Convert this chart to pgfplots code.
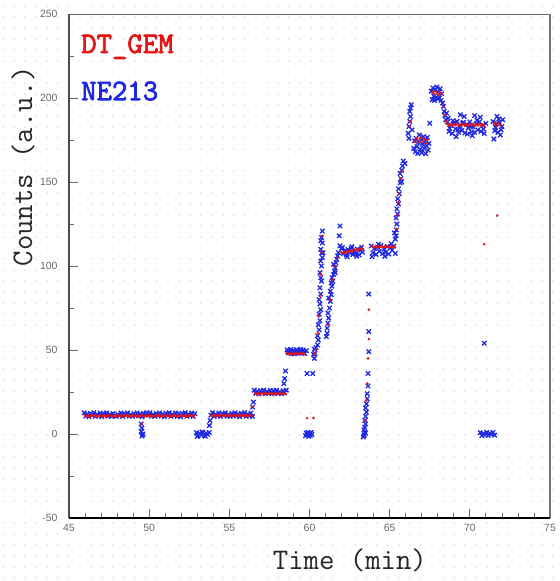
\documentclass[border=0pt]{standalone}
\usepackage{pgfplots}
\pgfplotsset{compat=1.18}
\usetikzlibrary{patterns}
\usepackage{fontspec}
\setsansfont{Liberation Sans}
\newfontfamily\bmono{Latin Modern Mono}[FakeBold=2.5]
\definecolor{redc}{RGB}{228,20,20}
\definecolor{bluec}{RGB}{30,40,225}
\definecolor{tickgray}{RGB}{105,105,105}
\pgfdeclarepatternformonly{bgdots}{\pgfqpoint{-1bp}{-1bp}}{\pgfqpoint{12bp}{12bp}}{\pgfqpoint{11bp}{11bp}}{\pgfpathcircle{\pgfqpoint{3bp}{3bp}}{0.8bp}\pgfusepath{fill}}
\begin{document}
\begin{tikzpicture}
\useasboundingbox (0,0) rectangle (560bp,581bp);
\fill[pattern=bgdots, pattern color=black!14] (0,0) rectangle (560bp,581bp);
\begin{axis}[
  at={(69bp,63bp)}, anchor=south west,
  scale only axis, width=481bp, height=504bp,
  xmin=45, xmax=75, ymin=-50, ymax=250,
  xtick={45,50,...,75}, ytick={-50,0,...,250},
  minor x tick num=4, minor y tick num=1,
  xtick pos=bottom, ytick pos=left,
  tick align=inside,
  major tick length=9bp, minor tick length=5bp,
  every tick/.style={tickgray, line width=0.8bp},
  axis line style={draw=none},
  clip=false,
  /pgf/number format/assume math mode=true,
  ticklabel style={font=\sffamily\fontsize{10.5}{12}\selectfont, text=tickgray},
  yticklabel style={xshift=-8bp},
  xticklabel style={yshift=-3bp},
  xlabel={Time (min)},
  xlabel style={at={(axis description cs:0.584,-0.0833)}, anchor=center, font=\ttfamily\fontsize{30}{32}\selectfont, text=black!85},
  ylabel={Counts (a.u.)},
  ylabel style={at={(axis description cs:-0.0956,0.698)}, anchor=center, font=\ttfamily\fontsize{30}{32}\selectfont, text=black!85},
]
\draw[black!70, line width=1.6bp] (rel axis cs:0,0) -- (rel axis cs:0,1);
\draw[black!60, line width=0.8bp] (rel axis cs:0,1) -- (rel axis cs:1,1);
\draw[black!55, line width=2bp] (rel axis cs:1,0) -- (rel axis cs:1,1);

% NE213 (blue crosses)
\addplot[only marks, mark=x, mark size=3.1bp, draw=bluec, line width=1.3bp] coordinates {
(45.95,12.6)(46.05,10.7)(46.15,11.9)(46.25,10.3)(46.35,12.3)(46.45,11.2)(46.55,12.7)(46.65,10.5)(46.75,11.7)(46.85,10.9)
(46.95,12.5)(47.05,10.4)(47.15,12.1)(47.25,11.4)(47.35,12.6)(47.45,10.6)(47.55,11.6)(47.65,10.5)(47.75,12.2)(47.85,11.0)
(47.95,10.5)(48.05,11.7)(48.15,10.9)(48.25,12.5)(48.35,10.4)(48.45,12.1)(48.55,11.4)(48.65,12.6)(48.75,10.6)(48.85,11.6)
(48.95,10.5)(49.05,12.2)(49.15,11.0)(49.25,12.6)(49.35,10.7)(49.45,11.9)(49.55,10.3)(49.65,12.3)(49.75,11.2)(49.85,12.7)
(49.95,11.4)(50.05,12.6)(50.15,10.6)(50.25,11.6)(50.35,10.5)(50.45,12.2)(50.55,11.0)(50.65,12.6)(50.75,10.7)(50.85,11.9)
(50.95,10.3)(51.05,12.3)(51.15,11.2)(51.25,12.7)(51.35,10.5)(51.45,11.7)(51.55,10.9)(51.65,12.5)(51.75,10.4)(51.85,12.1)
(51.95,10.3)(52.05,12.3)(52.15,11.2)(52.25,12.7)(52.35,10.5)(52.45,11.7)(52.55,10.9)(52.65,12.5)(52.75,10.4)(52.85,12.1)
(49.5,6.0)(49.55,3.5)(49.5,1.5)(49.6,0.0)(49.55,-1.2)(49.6,-0.5)
(52.95,0.8)(53.05,-1.0)(53.15,0.3)(53.25,-0.6)(53.35,1.0)(53.45,-0.9)(53.55,0.5)(53.65,-0.3)(53.75,0.9)
(53.0,-1.5)(53.3,1.2)(53.5,-1.3)(53.75,5.0)(53.8,8.0)
(53.85,11.2)(53.95,12.7)(54.05,10.5)(54.15,11.7)(54.25,10.9)(54.35,12.5)(54.45,10.4)(54.55,12.1)(54.65,11.4)(54.75,12.6)
(54.85,10.6)(54.95,11.6)(55.05,10.5)(55.15,12.2)(55.25,11.0)(55.35,12.6)(55.45,10.7)(55.55,11.9)(55.65,10.3)(55.75,12.3)
(55.85,11.2)(55.95,12.7)(56.05,10.5)(56.15,11.7)(56.25,10.9)(56.35,12.5)(56.45,10.4)
(56.45,16.0)(56.5,19.0)
(56.55,26.1)(56.65,24.2)(56.75,25.4)(56.85,23.8)(56.95,25.8)(57.05,24.7)(57.15,26.2)(57.25,24.0)(57.35,25.2)(57.45,24.4)
(57.55,26.0)(57.65,23.9)(57.75,25.6)(57.85,24.9)(57.95,26.1)(58.05,24.1)(58.15,25.1)(58.25,24.0)(58.35,25.7)(58.45,24.5)(58.55,26.1)
(58.45,33.0)(58.5,37.5)(58.4,30.0)
(58.6,50.1)(58.7,48.2)(58.8,49.4)(58.9,47.8)(59.0,49.8)(59.1,48.7)(59.2,50.2)(59.3,48.0)(59.4,49.2)(59.5,48.4)(59.6,50.0)(59.7,47.9)(59.8,49.6)
(58.65,48.9)(58.85,50.3)(59.05,47.6)(59.25,49.5)(59.45,50.4)(59.65,48.6)
(59.75,-1.0)(59.8,0.6)(59.85,-0.4)(59.9,1.0)(59.95,-1.4)(60.0,0.2)(60.05,-0.8)(60.1,0.9)(60.15,-0.2)
(59.85,36.0)(60.2,36.0)
(60.25,47.5)(60.3,50.5)(60.35,48.0)(60.4,51.5)(60.3,45.0)
(60.5,53)(60.55,56)(60.5,58.5)(60.6,62)(60.55,65)(60.65,67.5)(60.6,71.4)(60.7,74)(60.65,77.4)(60.6,80)
(60.7,83.3)(60.65,87)(60.75,91)(60.7,93)(60.65,96)(60.75,100)(60.7,103)(60.8,105)(60.75,107.7)(60.7,110)
(60.8,113.7)(60.75,117)(60.8,120.8)(60.7,115)(60.85,108)
(61.05,58)(61.1,60)(61.1,63)(61.15,66)(61.2,69)(61.15,72)(61.25,75)(61.3,79)(61.2,81)(61.35,83)
(61.3,85)(61.4,88)(61.45,91)(61.4,93)(61.5,95)(61.55,97)(61.6,99)(61.5,101)(61.65,102)(61.7,104)
(61.75,106)(61.6,96)(61.35,90)(61.8,108)(61.9,123.8)(61.85,118)(61.9,112)
(62.0,110.3)(62.1,107.2)(62.2,109.1)(62.3,106.5)(62.4,109.8)(62.5,108.0)(62.6,110.5)(62.7,106.8)(62.8,108.8)(62.9,107.5)
(63.0,110.1)(63.1,106.6)(63.2,109.4)(63.3,108.2)
(62.05,111)(62.35,105.5)(62.65,111.5)(62.95,105.8)(63.25,111.2)
(63.35,-1.8)(63.4,-0.5)(63.45,1.0)(63.4,2.5)(63.45,4.0)(63.5,6.0)(63.45,8.0)(63.5,10.5)(63.55,13.0)(63.5,15.5)
(63.55,18.0)(63.6,21.0)(63.6,24.0)(63.65,28.6)(63.65,36.0)(63.7,49.0)(63.7,61.0)(63.7,83.3)(63.4,-1.0)(63.5,0.5)
(63.85,111.9)(63.95,107.8)(64.05,110.4)(64.15,106.9)(64.25,111.2)(64.35,108.8)(64.45,112.2)(64.55,107.3)(64.65,110.0)(64.75,108.2)
(64.85,111.6)(64.95,107.1)(65.05,110.8)(65.15,109.3)(65.25,111.9)(65.35,107.5)
(63.9,105.5)(64.3,113)(64.7,105.8)(65.1,113.2)(65.3,119.6)(65.35,116)
(65.4,118)(65.42,121.5)(65.45,125)(65.4,128.6)(65.5,131)(65.45,134)(65.55,137)(65.5,140)(65.6,143)(65.55,146)
(65.65,149.5)(65.7,152)(65.65,155)(65.75,157)(65.8,159.5)(65.85,162.5)(65.95,161)(65.75,150)
(66.15,179)(66.2,183)(66.25,186)(66.3,189)(66.25,192)(66.35,196)(66.3,194)(66.4,181)(66.2,176)
(66.5,170)(66.55,174.5)(66.6,168)(66.65,176)(66.7,171)(66.75,167)(66.8,173.5)(66.85,178)(66.9,169.5)(66.95,175)
(67.0,167.5)(67.05,172.5)(67.1,177)(67.15,170)(67.2,174)(67.25,166.8)(67.3,171.5)(67.35,176.5)(67.4,169)(67.45,173)(67.5,185)
(67.6,204)(67.65,199)(67.7,206)(67.75,201)(67.8,198.5)(67.85,205)(67.9,200.5)(67.95,206.5)(68.0,199.5)(68.05,203.5)
(68.1,200)(68.15,205.5)(68.2,198.5)(68.25,202.5)(68.3,197)
(68.35,195)(68.4,192)(68.45,189.5)(68.5,187)(68.55,191)
(68.6,185.8)(68.7,180.1)(68.8,183.7)(68.9,178.9)(69.0,184.9)(69.1,181.6)(69.2,186.1)(69.3,179.5)(69.4,183.1)(69.5,180.7)
(69.6,185.5)(69.7,179.2)(69.8,184.3)(69.9,182.2)(70.0,185.8)(70.1,179.8)(70.2,182.8)(70.3,179.5)(70.4,184.6)(70.5,181.0)
(70.6,185.8)(70.7,180.1)(70.8,183.7)(70.9,178.9)(71.0,184.9)
(68.65,188)(69.15,177)(69.65,189)(70.15,177.5)(70.65,188.5)(69.4,190)(70.3,189.5)
(68.75,182)(68.95,186.5)(69.25,181)(69.55,185)(69.85,178.5)(70.05,183)(70.45,186.8)(70.85,181.5)
(70.65,0.8)(70.75,-1.0)(70.85,0.3)(70.95,-0.6)(71.05,1.0)(71.15,-0.9)(71.25,0.5)(71.35,-0.3)(71.45,0.9)(71.55,-0.7)
(70.9,54)
(71.45,186)(71.55,180.5)(71.65,184.5)(71.75,179.5)(71.85,185.5)(71.95,181)(72.05,187)
(71.5,175.6)(71.7,189)(71.9,178)(71.6,182.5)(71.8,187.5)(72.0,183)
};

% DT_GEM (red dots)
\addplot[only marks, mark=*, mark size=1.1bp, color=redc, mark options={draw=redc, fill=redc}] coordinates {
(46.0,11.2)(46.1,10.5)(46.2,10.9)(46.3,10.3)(46.4,11.1)(46.5,10.7)(46.6,11.3)(46.7,10.4)(46.8,11.0)(46.9,10.6)
(47.0,11.2)(47.1,10.5)(47.2,10.9)(47.3,10.3)(47.4,11.1)(47.5,10.7)(47.6,11.3)(47.7,10.4)(47.8,11.0)(47.9,10.6)
(48.0,11.2)(48.1,10.5)(48.2,10.9)(48.3,10.3)(48.4,11.1)(48.5,10.7)(48.6,11.3)(48.7,10.4)(48.8,11.0)(48.9,10.6)
(49.0,11.2)(49.1,10.5)(49.2,10.9)(49.3,10.3)(49.4,11.1)(49.5,10.7)(49.6,11.3)(49.7,10.4)(49.8,11.0)(49.9,10.6)
(50.0,11.2)(50.1,10.5)(50.2,10.9)(50.3,10.3)(50.4,11.1)(50.5,10.7)(50.6,11.3)(50.7,10.4)(50.8,11.0)(50.9,10.6)
(51.0,11.2)(51.1,10.5)(51.2,10.9)(51.3,10.3)(51.4,11.1)(51.5,10.7)(51.6,11.3)(51.7,10.4)(51.8,11.0)(51.9,10.6)
(52.0,11.2)(52.1,10.5)(52.2,10.9)(52.3,10.3)(52.4,11.1)(52.5,10.7)(52.6,11.3)(52.7,10.4)(52.8,11.0)
(49.55,6.0)
(53.9,11.4)(54.0,10.7)(54.1,11.1)(54.2,10.5)(54.3,11.3)(54.4,10.9)(54.5,11.5)(54.6,10.6)(54.7,11.2)(54.8,10.8)
(54.9,11.4)(55.0,10.7)(55.1,11.1)(55.2,10.5)(55.3,11.3)(55.4,10.9)(55.5,11.5)(55.6,10.6)(55.7,11.2)(55.8,10.8)
(55.9,11.4)(56.0,10.7)(56.1,11.1)(56.2,10.5)(56.3,11.3)(56.4,10.9)
(56.4,16.0)
(56.6,24.4)(56.7,23.7)(56.8,24.1)(56.9,23.5)(57.0,24.3)(57.1,23.9)(57.2,24.5)(57.3,23.6)(57.4,24.2)(57.5,23.8)
(57.6,24.4)(57.7,23.7)(57.8,24.1)(57.9,23.5)(58.0,24.3)(58.1,23.9)(58.2,24.5)(58.3,23.6)(58.4,24.2)(58.5,23.8)
(58.6,48.2)(58.7,47.5)(58.8,47.9)(58.9,47.3)(59.0,48.1)(59.1,47.7)(59.2,48.3)(59.3,47.4)(59.4,48.0)(59.5,47.6)(59.6,48.2)(59.7,47.5)
(59.85,9.5)(60.25,9.5)(60.3,48)(60.4,50)
(60.55,60)(60.6,70)(60.65,82)(60.7,95)(60.75,108)(60.8,118)(61.15,65)(61.3,80)(61.45,92)(61.6,100)(61.75,105)
(62.0,108.0)(62.1,107.6)(62.2,108.5)(62.3,108.1)(62.4,108.9)(62.5,108.5)(62.6,109.3)(62.7,108.9)(62.8,109.7)(62.9,109.3)
(63.0,110.1)(63.1,109.7)(63.2,110.5)(63.3,110.1)
(63.55,20)(63.6,30)(63.65,45)(63.7,56.5)(63.7,74)(63.5,8)
(63.9,111.9)(64.0,111.2)(64.1,111.6)(64.2,111.0)(64.3,111.8)(64.4,111.4)(64.5,112.0)(64.6,111.1)(64.7,111.7)(64.8,111.3)
(64.9,111.9)(65.0,111.2)(65.1,111.6)(65.2,111.0)(65.3,111.8)
(65.45,122)(65.5,130)(65.55,138)(65.6,143)(65.7,152)(65.8,156.5)
(66.3,186)(66.25,183)
(66.55,174)(66.65,176)(66.75,175)(66.85,173.5)(66.95,176.5)(67.05,174.5)(67.15,175.5)(67.25,173)(67.35,175)
(67.65,203.5)(67.75,202.5)(67.85,204)(67.95,203)(68.05,202)(68.15,203.5)(68.25,202.5)
(68.35,195)(68.45,190)(68.55,186)
(68.6,184.5)(68.7,183.6)(68.8,184.2)(68.9,183.3)(69.0,184.4)(69.1,183.9)(69.2,184.7)(69.3,183.4)(69.4,184.3)(69.5,183.7)
(69.6,184.5)(69.7,183.6)(69.8,184.2)(69.9,183.3)(70.0,184.4)(70.1,183.9)(70.2,184.7)(70.3,183.4)(70.4,184.3)(70.5,183.7)
(70.6,184.5)(70.7,183.6)(70.8,184.2)(70.9,183.3)
(70.9,113)(71.7,130)
(71.5,184.5)(71.6,185.5)(71.7,183.5)(71.8,184.8)(71.9,183.8)
};

\node[anchor=base west, inner sep=0pt, text=redc, font=\bmono\fontsize{30}{32}\selectfont] at (axis description cs:0.025,0.9226) {DT\_GEM};
\node[anchor=base west, inner sep=0pt, text=bluec, font=\bmono\fontsize{30}{32}\selectfont] at (axis description cs:0.025,0.829) {NE213};
\draw[black, line width=2bp] (rel axis cs:0,0) -- (rel axis cs:1,0);
\end{axis}
\end{tikzpicture}
\end{document}
